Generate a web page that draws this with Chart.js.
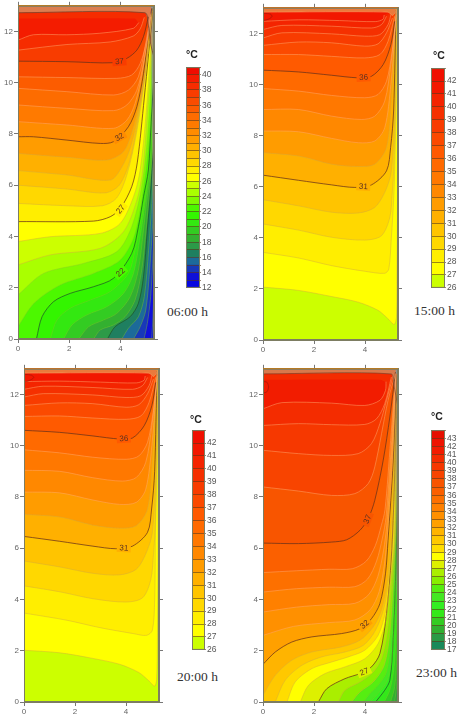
<!DOCTYPE html>
<html>
<head>
<meta charset="utf-8">
<script src="https://cdn.jsdelivr.net/npm/chart.js@4"></script>
<style>
  body { margin:0; background:#fff; width:464px; height:720px; overflow:hidden; position:relative; }
  canvas { position:absolute; filter:blur(.5px); }
  .unit { position:absolute; font:bold 10.5px "Liberation Sans",Arial,sans-serif; color:#222; }
  .hora { position:absolute; font:13.5px "Liberation Serif",serif; color:#333; white-space:nowrap; }
</style>
</head>
<body>
<script>
/* DADOS: isotermas, [x, y] em metros */
const xTicks = [0,2,4];
const yTicks = [0,2,4,6,8,10,12];

const levels06 = [13,14,15,16,17,18,19,20,21,22,23,24,25,26,27,28,29,30,31,32,33,34,35,36,37,38,39];
const curves06 = [
  [[5.22,0],[5.27,.87],[5.31,2]],
  [[4.92,0],[5.05,.61],[5.18,1.65],[5.28,3.34],[5.31,4]],
  [[4.51,0],[4.77,.48],[4.99,1.13],[5.14,2.69],[5.26,4.51],[5.31,6]],
  [[4.05,0],[4.31,.42],[4.7,.87],[4.93,1.65],[5.1,3.47],[5.22,5.29],[5.3,7]],
  [[3.49,0],[3.79,.48],[4.38,.87],[4.7,1.39],[4.9,2.43],[5.05,4.25],[5.18,5.81],[5.29,7.5]],
  [[2.95,0],[3.21,.35],[3.73,.55],[4.18,.87],[4.57,1.52],[4.83,2.69],[5,4.25],[5.15,5.94],[5.29,8]],
  [[2.37,0],[2.76,.48],[3.34,.74],[3.86,1],[4.38,1.65],[4.7,2.69],[4.9,4.25],[5.05,5.55],[5.18,6.59],[5.29,8.5]],
  [[1.78,0],[2.11,.55],[2.69,.94],[3.47,1.26],[4.12,1.78],[4.51,2.56],[4.77,3.99],[4.96,5.29],[5.13,6.59],[5.28,9]],
  [[1.26,0],[1.52,.74],[2.04,1.2],[2.82,1.52],[3.6,1.85],[4.31,2.56],[4.57,3.47],[4.83,4.77],[5.03,6.07],[5.25,9]],
  [[.72,0],[.94,.87],[1.39,1.46],[2.04,1.78],[2.95,2.04],[3.73,2.37],[4.44,3.34],[4.7,4.38],[4.9,5.55],[5.09,6.59],[5.2,8.5],[5.29,10]],
  [[0,.48],[.62,1.39],[1.65,2.11],[2.95,2.56],[3.99,3.08],[4.57,4.12],[4.96,6.33],[5.12,7.8],[5.29,10.5]],
  [[0,1.72],[1,2.56],[2.56,2.95],[3.86,3.41],[4.44,4.38],[4.83,5.94],[5.07,8],[5.29,11.5]],
  [[0,2.89],[1.25,3.28],[3.21,3.54],[4.12,4.19],[4.64,5.42],[4.87,6.59],[5.05,8.8],[5.28,12]],
  [[0,3.8],[1.25,3.99],[3.21,4.12],[3.99,4.51],[4.51,5.55],[4.77,6.6],[5,8.8],[5.27,12.6]],
  [[0,4.58],[2.95,4.6],[3.6,4.77],[4,5.1],[4.44,5.94],[4.66,6.9],[4.93,9.4],[5.27,12.9]],
  [[0,5.29],[1.91,5.2],[3.3,5.2],[3.85,5.5],[4.25,6.4],[4.62,8],[4.95,10.2],[5.26,12.9]],
  [[0,6],[1.91,5.85],[3.4,5.7],[3.95,6],[4.35,6.9],[4.68,8.5],[4.98,10.5],[5.25,12.8]],
  [[0,6.57],[1.91,6.4],[3.6,6.2],[4.05,6.7],[4.4,7.5],[4.72,8.9],[5,10.6],[5.24,12.7]],
  [[0,7.24],[1.91,7.09],[3.47,6.98],[4.12,7.31],[4.44,8.03],[4.77,9.33],[5.03,10.88],[5.23,12.7]],
  [[0,7.89],[.6,7.89],[1.91,7.76],[3.21,7.63],[3.73,7.7],[4.31,8.28],[4.64,9.06],[4.9,10.36],[5.09,11.9],[5.22,12.9]],
  [[0,8.48],[1.91,8.35],[3.73,8.22],[4.25,8.54],[4.57,9.19],[4.87,10.49],[5.18,12.57]],
  [[0,9.13],[1.91,9],[3.73,8.91],[4.25,9.13],[4.64,9.71],[4.92,10.88],[5.18,12.57]],
  [[0,9.78],[1.91,9.65],[3.73,9.52],[4.31,9.71],[4.7,10.23],[4.96,11.4],[5.18,12.64]],
  [[0,10.23],[1.91,10.2],[3.86,10.17],[4.44,10.3],[4.77,10.75],[5.03,11.66],[5.18,12.7]],
  [[0,10.84],[1.91,10.82],[3.73,10.78],[4.25,10.95],[4.64,11.27],[4.9,11.8],[5.09,12.57]],
  [[0,11.27],[1.91,11.49],[3.6,11.59],[4.5,11.82],[4.77,12.1],[4.93,12.55]],
  [[0,11.66],[.6,11.87],[1.91,11.87],[3.2,11.93],[4.5,12.12],[4.72,12.35]]
];
const capBands06 = [38];
const capCurves06 = [[[0,12.5],[4.55,12.5],[4.72,12.35],[5.31,13]]];
const strip06 = [[0,12.73],[4.95,12.73],[5.08,12.3],[5.18,11.5],[5.31,11]];
const wall06 = [[5.2,13],[5.22,9],[5.26,5],[5.31,3],[5.31,13]];
const labelText06 = ["37","32","27","22"];
const labelPos06 = [[3.96,10.82],[3.96,7.87],[4.01,5.06],[4.01,2.59]];
const labelAngle06 = [-4,-30,-52,-42];

const levels15 = [27,28,29,30,31,32,33,34,35,36,37,38,39,40,41];
const curves15 = [
  [[0,2.07],[1.39,1.94],[2.69,1.7],[3.73,1.48],[4.51,1.16],[4.9,.83],[5.14,.61],[5.23,.9],[5.25,2.7],[5.27,5.3],[5.27,13]],
  [[0,3.43],[1.39,3.21],[2.69,2.91],[3.99,2.69],[4.77,2.61],[4.93,2.78],[5.03,4.02],[5.11,5.32],[5.16,6.62],[5.22,9.5],[5.24,13]],
  [[0,4.54],[1.39,4.3],[2.69,4.02],[3.99,3.91],[4.64,4.08],[4.97,4.8],[5.07,5.84],[5.12,6.62],[5.2,9.5],[5.23,13]],
  [[0,5.49],[1.39,5.25],[2.69,5],[3.73,4.97],[4.38,5.19],[4.8,5.84],[5.03,6.62],[5.17,9],[5.22,13]],
  [[0,6.45],[1.39,6.25],[2.69,6.07],[3.6,5.97],[4.25,6.07],[4.84,6.62],[5,7.53],[5.12,9],[5.21,12.9]],
  [[0,7.33],[1.39,7.2],[2.69,6.88],[3.73,6.79],[4.38,6.88],[4.84,7.53],[5.03,9.35],[5.16,11.95],[5.22,13]],
  [[0,8.18],[1.39,8.15],[2.69,7.89],[3.73,7.72],[4.38,7.79],[4.77,8.31],[5.01,10],[5.16,11.95],[5.22,12.9]],
  [[0,9.02],[1.39,9.02],[2.69,8.76],[3.86,8.63],[4.38,8.76],[4.77,9.35],[5.01,10.78],[5.14,11.95],[5.23,12.86]],
  [[0,9.84],[1.39,9.74],[2.69,9.57],[3.99,9.48],[4.51,9.61],[4.84,10.13],[5.06,11.3],[5.23,12.73]],
  [[0,10.56],[1.39,10.49],[2.69,10.36],[3.73,10.26],[4.25,10.32],[4.71,10.78],[5.01,11.56],[5.16,12.47]],
  [[0,11.17],[1.39,11.17],[2.69,11.1],[3.99,11.04],[4.58,11.17],[4.9,11.69],[5.16,12.67]],
  [[0,11.53],[1.39,11.66],[2.69,11.63],[3.99,11.5],[4.51,11.59],[4.84,12.02],[5.07,12.6]],
  [[0,11.82],[.74,12.02],[2.69,11.98],[3.99,11.89],[4.58,11.95],[4.9,12.34],[5.01,12.73]],
  [[0,12.15],[.74,12.31],[2.69,12.28],[4.25,12.21],[4.64,12.34],[4.84,12.67]],
  [[0,12.47],[1.4,12.53],[3,12.5],[4.4,12.46],[4.7,12.55],[4.75,12.72]]
];
const loop15 = [[0,12.5],[.2,12.55],[.35,12.65],[.3,12.75],[.05,12.78],[0,12.78]];
const strip15 = [[0,12.83],[4.9,12.83],[5.08,12.7],[5.29,13]];
const labelText15 = ["36","31"];
const labelPos15 = [[3.94,10.27],[3.93,6]];
const labelAngle15 = [-3,3];

const levels20 = [27,28,29,30,31,32,33,34,35,36,37,38,39,40,41];
const curves20 = [
  [[0,2.02],[1.4,1.92],[2.7,1.7],[3.75,1.47],[4.5,1.15],[4.9,.82],[5.12,.62],[5.2,.9],[5.23,2.7],[5.25,5.3],[5.26,9],[5.27,13]],
  [[0,3.47],[1.68,3.19],[2.98,2.9],[4.28,2.67],[4.8,2.6],[5.03,2.8],[5.12,3.97],[5.15,6.6],[5.22,9.5],[5.24,13]],
  [[0,4.53],[1.4,4.3],[2.7,4.03],[4,3.9],[4.65,4.07],[4.97,4.78],[5.08,5.84],[5.13,6.62],[5.2,9.5],[5.23,13]],
  [[0,5.5],[1.4,5.27],[2.7,5.02],[3.75,4.96],[4.4,5.18],[4.8,5.84],[5.03,6.62],[5.17,9],[5.22,13]],
  [[0,6.46],[1.4,6.27],[2.7,6.08],[3.6,5.98],[4.25,6.08],[4.84,6.62],[5,7.53],[5.12,9],[5.21,12.9]],
  [[0,7.32],[1.4,7.22],[2.7,6.9],[3.75,6.78],[4.4,6.88],[4.84,7.53],[5.03,9.35],[5.16,11.95],[5.22,13]],
  [[0,8.19],[1.4,8.16],[2.7,7.88],[3.75,7.71],[4.4,7.79],[4.77,8.3],[5.01,10],[5.16,11.95],[5.22,12.9]],
  [[0,9.04],[1.4,9],[2.7,8.75],[3.85,8.62],[4.4,8.76],[4.77,9.35],[5.01,10.78],[5.14,11.95],[5.23,12.86]],
  [[0,9.84],[1.4,9.72],[2.7,9.55],[4,9.47],[4.5,9.6],[4.84,10.13],[5.06,11.3],[5.23,12.73]],
  [[0,10.6],[1.4,10.52],[2.7,10.38],[3.75,10.26],[4.25,10.3],[4.71,10.78],[5.01,11.56],[5.16,12.47]],
  [[0,11.14],[1.4,11.16],[2.7,11.08],[4,11.03],[4.58,11.16],[4.9,11.69],[5.16,12.67]],
  [[0,11.57],[1.4,11.67],[2.7,11.64],[4,11.5],[4.5,11.6],[4.84,12.02],[5.07,12.6]],
  [[0,11.9],[.75,12.03],[2.7,11.98],[4,11.88],[4.58,11.95],[4.9,12.34],[5.01,12.73]],
  [[0,12.2],[.75,12.32],[2.7,12.27],[4.25,12.2],[4.64,12.34],[4.84,12.66]],
  [[0,12.5],[1.4,12.52],[3,12.48],[4.4,12.45],[4.7,12.55],[4.75,12.72]]
];
const loop20 = [[0,12.48],[.2,12.54],[.38,12.65],[.3,12.75],[.05,12.78],[0,12.78]];
const strip20 = [[0,12.83],[4.9,12.83],[5.08,12.7],[5.29,13]];
const labelText20 = ["36","31"];
const labelPos20 = [[3.91,10.27],[3.91,6]];
const labelAngle20 = [-3,3];

const levels23 = [18,19,20,21,22,23,24,25,26,27,28,29,30,31,32,33,34,35,36,37,38,39,40,41];
const curves23 = [
  [[5.25,0],[5.29,1]],
  [[5.16,0],[5.25,.8],[5.29,3]],
  [[5,0],[5.16,.59],[5.25,1.89],[5.29,5]],
  [[4.75,0],[4.97,.46],[5.14,1.37],[5.23,3.06],[5.29,7]],
  [[4.41,0],[4.77,.46],[4.97,.85],[5.1,2.4],[5.2,5],[5.28,9]],
  [[4.19,0],[4.51,.33],[4.84,.78],[5.03,1.5],[5.16,3.45],[5.24,7],[5.28,9.5]],
  [[3.93,0],[4.19,.33],[4.51,.65],[4.84,1.17],[5.03,2.54],[5.14,4.62],[5.22,7],[5.27,10]],
  [[3.47,0],[3.8,.39],[4.32,.78],[4.75,1.43],[4.97,2.67],[5.11,4.75],[5.2,7],[5.27,11]],
  [[2.95,0],[3.21,.46],[3.8,.78],[4.32,1.17],[4.67,1.76],[4.9,2.93],[5.07,5],[5.18,6.57],[5.26,12]],
  [[2.17,0],[2.5,.52],[3.21,.91],[3.8,1.11],[4.25,1.37],[4.58,1.89],[4.84,3.45],[5.03,5.66],[5.15,8.5],[5.25,12.5]],
  [[1.46,0],[1.78,.65],[2.43,1.11],[3.21,1.37],[3.99,1.69],[4.51,2.28],[4.81,3.19],[5,4.75],[5.14,6.31],[5.2,9.4],[5.25,12.8]],
  [[.94,0],[1.26,.78],[1.91,1.3],[2.69,1.56],[3.34,1.76],[3.99,2.02],[4.51,2.6],[4.8,3.51],[4.97,4.62],[5.1,6.31],[5.18,9.4],[5.24,12.8]],
  [[.48,0],[.87,.85],[1.52,1.43],[2.3,1.76],[3.21,1.95],[3.93,2.21],[4.41,2.8],[4.75,3.71],[4.93,4.88],[5.06,6.31],[5.16,9.4],[5.24,12.8]],
  [[0,.26],[.48,1.04],[1.13,1.63],[1.91,1.95],[3.08,2.15],[3.8,2.41],[4.32,2.93],[4.64,3.58],[4.88,4.75],[5,6.31],[5.13,9.4],[5.23,12.8]],
  [[0,1.47],[.48,1.95],[1.13,2.34],[1.91,2.54],[3.08,2.67],[3.8,2.86],[4.25,3.25],[4.58,3.84],[4.8,5],[4.9,6.31],[5.1,9.4],[5.23,12.8]],
  [[0,2.6],[1.2,2.95],[2.6,3.1],[3.6,3.2],[4.2,3.6],[4.55,4.3],[4.76,5.4],[4.88,6.6],[5.08,9.6],[5.22,12.8]],
  [[0,3.51],[1.3,3.7],[2.6,3.8],[3.6,3.85],[4.15,4.2],[4.5,4.9],[4.72,5.9],[4.85,6.9],[5.05,9.8],[5.21,12.8]],
  [[0,4.29],[1.3,4.42],[2.6,4.48],[3.6,4.5],[4.1,4.8],[4.45,5.5],[4.68,6.4],[4.82,7.2],[5.03,10],[5.2,12.8]],
  [[0,5.05],[1.3,5.12],[2.6,5.18],[3.5,5.2],[4.05,5.5],[4.4,6.1],[4.64,6.9],[4.78,7.5],[5,10.2],[5.2,12.85]],
  [[0,6.2],[1.39,6.18],[2.69,6.24],[3.28,6.33],[3.8,6.7],[4.12,7.15],[4.38,7.87],[4.71,9.43],[4.97,11.12],[5.19,12.87]],
  [[0,8.39],[1.39,8.23],[2.69,8.06],[3.6,8.13],[4.12,8.52],[4.38,9.17],[4.9,11.77],[5.19,12.81]],
  [[0,9.82],[1.39,9.69],[2.69,9.62],[3.73,9.69],[4.25,10.08],[4.58,10.86],[4.84,11.77],[5.1,12.74]],
  [[0,10.79],[1.39,10.86],[2.69,10.82],[3.99,10.83],[4.45,11.05],[4.77,11.64],[5.03,12.68]],
  [[0,11.44],[.74,11.68],[2.69,11.66],[3.99,11.57],[4.58,11.77],[4.8,12.16],[4.82,12.5]]
];
const capBands23 = [40];
const capCurves23 = [[[0,12.57],[4.6,12.57],[4.82,12.5],[5.29,13]]];
const loop23 = [[0,12.05],[.15,12.1],[.22,12.29],[.15,12.48],[0,12.5]];
const strip23 = [[0,12.8],[5.02,12.8],[5.12,12.4],[5.29,11.5]];
const wall23 = [[5.2,13],[5.2,9],[5.23,5],[5.27,3],[5.29,2],[5.29,13]];
const labelText23 = ["37","32","27"];
const labelPos23 = [[4.1,7.13],[3.99,3.02],[3.97,1.17]];
const labelAngle23 = [-68,-40,-22];

/* CORES: uma por faixa de 1 °C, da menor para a maior */
const colors06 = ["#0808e0","#1010d8","#1838b8","#1c6a9a","#1f7f60","#2c9a48","#33b030","#33cc22","#33e811","#33f500","#4cf800","#80fa00","#aaff00","#ccff00","#ffff00","#ffee00","#ffd800","#ffc400","#ffb000","#ff9c00","#ff8c00","#ff7a00","#fd6c00","#fc5c00","#f94c00","#f83c00","#f62c00","#f41c00","#f00c00"];
const colors15 = ["#ccff00","#ffff00","#ffee00","#ffd800","#ffc400","#ffb000","#ff9c00","#ff8800","#ff7800","#ff6a00","#ff5a00","#fb4a00","#f83c00","#f53000","#f42400","#f21800","#f01000"];
const colors23 = ["#1a8a5a","#2a9a45","#30b030","#33cc22","#33e81a","#33ee22","#44e822","#55ee11","#88ee00","#aaee00","#ddf000","#ffff00","#ffdd00","#ffc800","#ffb400","#ffa000","#ff9000","#ff8000","#fd7000","#fb6000","#f85500","#f84400","#f63800","#f42c00","#f21c00","#ee1400","#e61000"];

const panels = [
  {box:[18,5,154,339], xmax:5.31, levels:levels06, curves:curves06, colors:colors06, base:12, dark:[17,22,27,32,37], capBands:capBands06, caps:capCurves06, strip:strip06, stripColor:"#dc7d50", stripLine:"rgba(110,60,40,.7)", wall:wall06, labelText:labelText06, labelPos:labelPos06, labelAngle:labelAngle06,
   bar:[186,66,200,289], range:[12,41], labelStep:2, unit:[186,48], time:"06:00 h", timePos:[167,304]},
  {box:[263,7,398,340], xmax:5.29, levels:levels15, curves:curves15, colors:colors15, base:26, dark:[31,36], loop:loop15, strip:strip15, stripColor:"#ea7a3c", stripLine:"rgba(255,170,110,.5)", labelText:labelText15, labelPos:labelPos15, labelAngle:labelAngle15,
   bar:[431,67,445,289], range:[26,43], labelStep:1, unit:[433,49], time:"15:00 h", timePos:[414,303]},
  {box:[24,368,159,702], xmax:5.29, levels:levels20, curves:curves20, colors:colors15, base:26, dark:[31,36], loop:loop20, strip:strip20, stripColor:"#ea7a3c", stripLine:"rgba(255,170,110,.5)", labelText:labelText20, labelPos:labelPos20, labelAngle:labelAngle20,
   bar:[192,429,205,651], range:[26,43], labelStep:1, unit:[190,413], time:"20:00 h", timePos:[177,669]},
  {box:[263,368,398,702], xmax:5.29, levels:levels23, curves:curves23, colors:colors23, base:17, dark:[22,27,32,37], capBands:capBands23, caps:capCurves23, loop:loop23, strip:strip23, stripColor:"#d8794c", stripLine:"rgba(110,60,40,.6)", wall:wall23, labelText:labelText23, labelPos:labelPos23, labelAngle:labelAngle23,
   bar:[431,429,445,651], range:[17,44], labelStep:1, unit:[431,410], time:"23:00 h", timePos:[416,665]}
];

const FRAME = "#7d7d62";
const TICK_TXT = "#666";

function pts(list) { return list.map(p => ({x:p[0], y:p[1]})); }

/* fecha a isoterma pelo lado quente; primeiro ponto em x=0 e último em xmax */
function regiao(curva, xmax) {
  const head = (curva[0][0] > 0 && curva[0][1] === 0) ? [[0,13],[0,0]] : [[0,13]];
  const fim = curva[curva.length-1];
  return pts([...head, curva[0], ...curva, fim, [xmax,13]]);
}

function fillSet(data, cor, ordem, tension) {
  return {data, showLine:true, fill:"shape", backgroundColor:cor, borderColor:"transparent",
          borderWidth:0, pointRadius:0, tension:tension, order:ordem};
}
function lineSet(curva, cor, largura, ordem) {
  return {data:pts(curva), showLine:true, fill:false, borderColor:cor, borderWidth:largura,
          pointRadius:0, tension:.3, order:ordem};
}
function corLinha(nivel, dark) {
  if (dark.includes(nivel)) return nivel > 24 ? "rgba(105,50,25,.75)" : "rgba(30,80,40,.7)";
  if (nivel >= 33) return "rgba(255,170,110,.55)";
  if (nivel >= 25) return "rgba(210,170,60,.5)";
  return "rgba(130,200,40,.45)";
}

const rotulos = {
  id:"rotulos",
  afterDatasetsDraw(chart, args, o) {
    const ctx = chart.ctx;
    (o.text || []).forEach((t,i) => {
      const px = chart.scales.x.getPixelForValue(o.pos[i][0]);
      const py = chart.scales.y.getPixelForValue(o.pos[i][1]);
      const a = o.angle[i] * Math.PI/180;
      const d = ctx.getImageData(px + Math.sin(a)*6, py - Math.cos(a)*6, 1, 1).data;
      ctx.save();
      ctx.translate(px,py);
      ctx.rotate(a);
      ctx.fillStyle = `rgb(${d[0]},${d[1]},${d[2]})`;
      ctx.fillRect(-7,-4,14,8);
      ctx.fillStyle = "#5a3020";
      ctx.font = '8px "Liberation Sans",Arial,sans-serif';
      ctx.textAlign = "center";
      ctx.textBaseline = "middle";
      ctx.fillText(t,0,0);
      ctx.restore();
    });
  }
};

const moldura = {
  id:"moldura",
  afterDraw(chart) {
    const a = chart.chartArea, ctx = chart.ctx;
    ctx.save();
    ctx.strokeStyle = FRAME;
    ctx.lineWidth = 1;
    ctx.strokeRect(a.left+.5, a.top+.5, a.right-a.left-1, a.bottom-a.top-1);
    ctx.restore();
  }
};

function novoCanvas(l,t,w,h) {
  const c = document.createElement("canvas");
  c.width = w; c.height = h;
  c.style.left = l+"px"; c.style.top = t+"px";
  c.style.width = w+"px"; c.style.height = h+"px";
  document.body.appendChild(c);
  return c;
}

function eixo(pos, min, max, fit, mostra, extra) {
  return Object.assign({
    type:"linear", position:pos, min, max,
    afterFit: s => { if (s.isHorizontal()) s.height = fit; else s.width = fit; },
    border:{color:FRAME},
    grid:{drawOnChartArea:false, color:"#777", tickLength:4},
    ticks:{display:mostra, stepSize:2, includeBounds:false, color:TICK_TXT, padding:1, maxRotation:0,
           font:{size:8, family:'"Liberation Sans",Arial,sans-serif'}}
  }, extra || {});
}

function desenhaPainel(p) {
  const [l,t,r,b] = p.box;
  const mL = 22, mR = 7, mT = 5, mB = 18;
  const sets = [];
  sets.push(fillSet(pts([[0,13],[0,0],[p.xmax,0],[p.xmax,13]]), p.colors[0], 2000, 0));
  p.levels.forEach((nivel,i) => {
    sets.push(fillSet(regiao(p.curves[i],p.xmax), p.colors[nivel-p.base], 1900-i, .3));
    sets.push(lineSet(p.curves[i], corLinha(nivel,p.dark), p.dark.includes(nivel) ? 1 : .9, 400-i));
  });
  (p.caps || []).forEach((c,i) => {
    sets.push(fillSet(regiao(c,p.xmax), p.colors[p.capBands[i]-p.base], 1000-i, .3));
  });
  sets.push(fillSet(regiao(p.strip,p.xmax), p.stripColor, 900, .2));
  sets.push(lineSet(p.strip, p.stripLine, 1, 50));
  if (p.wall) sets.push(fillSet(pts(p.wall), "#8c9490", 800, 0));
  if (p.loop) sets.push(lineSet(p.loop, "rgba(176,24,8,.8)", 1, 40));

  const c = novoCanvas(l-mL, t-mT, (r-l)+mL+mR, (b-t)+mT+mB);
  new Chart(c, {
    type:"scatter",
    data:{datasets:sets},
    options:{
      responsive:false, animation:false, devicePixelRatio:1,
      layout:{padding:0},
      plugins:{legend:{display:false}, tooltip:{enabled:false},
               rotulos:{text:p.labelText, pos:p.labelPos, angle:p.labelAngle}},
      scales:{
        x:eixo("bottom",0,p.xmax,mB,true),
        x2:eixo("top",0,p.xmax,mT,false),
        y:eixo("left",0,13,mL,true),
        y2:eixo("right",0,13,mR,false)
      }
    },
    plugins:[rotulos, moldura]
  });
}

function desenhaBarra(p) {
  const [l,t,r,b] = p.bar;
  const [lo,hi] = p.range;
  const faixas = p.colors.map((cor,i) => ({
    data:[[lo+i, lo+i+1]], backgroundColor:cor, borderWidth:0,
    barPercentage:1, categoryPercentage:1, grouped:false
  }));
  const c = novoCanvas(l, t-5, (r-l)+20, (b-t)+10);
  new Chart(c, {
    type:"bar",
    data:{labels:[""], datasets:faixas},
    options:{
      responsive:false, animation:false, devicePixelRatio:1,
      layout:{padding:{top:5,bottom:5}},
      plugins:{legend:{display:false}, tooltip:{enabled:false}},
      scales:{
        x:{display:false, stacked:false},
        y:{
          position:"right", min:lo, max:hi,
          afterFit: s => { s.width = 20; },
          border:{display:false},
          grid:{color:"rgba(90,55,25,.6)", z:1, tickLength:1},
          ticks:{stepSize:1, autoSkip:false, padding:1, color:"#555",
                 font:{size:8.5, family:'"Liberation Sans",Arial,sans-serif'},
                 callback:v => (v === hi || (v-lo) % p.labelStep) ? "" : v}
        }
      }
    },
    plugins:[moldura]
  });
}

panels.forEach(p => {
  desenhaPainel(p);
  desenhaBarra(p);
  const u = document.createElement("div");
  u.className = "unit"; u.textContent = "°C";
  u.style.left = p.unit[0]+"px"; u.style.top = p.unit[1]+"px";
  document.body.appendChild(u);
  const h = document.createElement("div");
  h.className = "hora"; h.textContent = p.time;
  h.style.left = p.timePos[0]+"px"; h.style.top = p.timePos[1]+"px";
  document.body.appendChild(h);
});
</script>
</body>
</html>
